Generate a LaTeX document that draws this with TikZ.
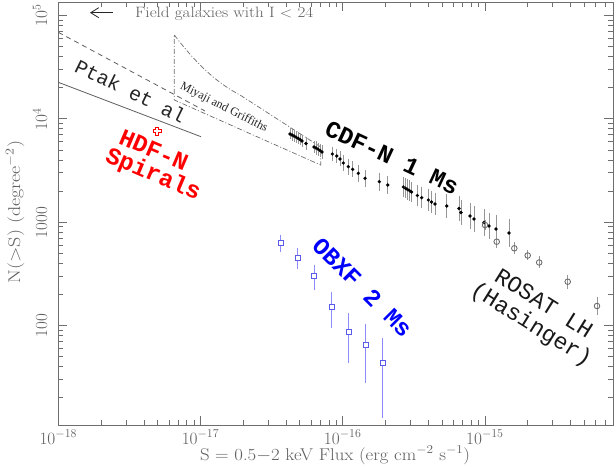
\documentclass[tikz,border=0pt]{standalone}
\usepackage{fontspec}
\usepackage{pdfrender}
\usetikzlibrary{arrows.meta}
\newfontfamily\cour{Liberation Mono}
\newfontfamily\tms{Liberation Serif}
\definecolor{axgray}{RGB}{110,110,110}
\definecolor{txtgray}{RGB}{95,95,95}
\definecolor{barg}{RGB}{150,150,150}
\definecolor{rosg}{RGB}{100,100,100}
\definecolor{obsq}{RGB}{90,90,235}
\definecolor{obbar}{RGB}{140,140,255}
\definecolor{obtxt}{RGB}{0,0,255}
\definecolor{hdfred}{RGB}{255,0,0}
\definecolor{linegray}{RGB}{95,95,95}
\newcommand{\heavy}[1]{\textpdfrender{TextRenderingMode=FillStroke,LineWidth=0.7pt,LineJoin=1}{#1}}
\def\cdfdata{290/134,292/135,294/136,296/137.2,298/138.3,300/139.5,302/141,306/143.5,314/147,316/148,318/149.2,320/150.5,322/152,332.3/154,336.7/156,340/159,343.3/163,348.3/166.7,352.7/169.3,358.3/173.3,365/178.3,379.3/181.7,387.7/185,403.3/187,405.5/188.3,407.5/189.5,409.5/190.7,411.5/192,417.3/195.5,421.7/197.7,428.3/200,431.5/202,435/204,446.7/206,459/208.5,461/212.5,470/216,474/219,484/222.5,489/226,496/229,509/233}
\def\rosdata{485/225/5,496.7/241.7/6,514.3/248.3/6,527.7/255.5/5,539.2/262.5/6,567.7/281.7/7,597/306/9}
\def\obxdata{280.7/242.7/235/252.3,297.7/257.7/248.3/269,314.3/276/265/290,331.7/306.7/291.7/328.3,348.7/331.7/313.3/363.3,365.7/345/324/383.3,382.7/362.7/338.3/418.3}
\begin{document}
\begin{tikzpicture}[x=1pt,y=-1pt,
  frame/.style={draw=axgray,line width=0.9pt},
  tick/.style={draw=axgray,line width=0.8pt},
  ticklab/.style={text=txtgray,inner sep=0pt,font={\fontsize{17}{20}\selectfont}},
  axlab/.style={text=txtgray,inner sep=0pt,font={\fontsize{17}{20}\selectfont}},
  cbar/.style={draw=barg,line width=0.9pt},
  cdot/.style={fill=black},
  rosbar/.style={draw=barg,line width=0.9pt},
  roscirc/.style={draw=rosg,line width=0.8pt},
  obbarst/.style={draw=obbar,line width=0.9pt},
  obsqst/.style={draw=obsq,line width=0.8pt},
  ptakline/.style={draw=linegray,line width=0.8pt},
  ptakdash/.style={draw=linegray,line width=0.8pt,dash pattern=on 5pt off 4pt},
  mgline/.style={draw=axgray,line width=0.7pt,dash pattern=on 5pt off 2pt on 1pt off 2pt},
  monolab/.style={inner sep=0pt,font={\cour\fontsize{#1}{#1}\selectfont}},
  boldlab/.style={inner sep=0pt,font={\cour\bfseries\fontsize{#1}{#1}\selectfont}}
]
\useasboundingbox (0,0) rectangle (616,470);
\fill[white] (0,0) rectangle (616,470);

% frame
\coordinate (fbl) at (58.3,425);
\coordinate (ftr) at (613,2.3);
\draw[frame] (fbl) rectangle (ftr);

% x ticks (bottom and top)
\foreach \d in {-18,-17,-16,-15} {
  \foreach \m in {1,...,9} {
    \pgfmathsetmacro\xx{58.3+142.2*(\d+18+log10(\m))}
    \pgfmathsetmacro\tl{ifthenelse(\m==1,9,5)}
    \ifdim\xx pt<612.5pt
      \draw[tick] (\xx,425) -- (\xx,{425-\tl});
      \draw[tick] (\xx,2.3) -- (\xx,{2.3+\tl});
    \fi
  }
}
% y ticks (left and right)
\foreach \k in {1,2,3,4,5} {
  \foreach \m in {1,...,9} {
    \pgfmathsetmacro\yy{325.3-103.2*(\k-2+log10(\m))}
    \pgfmathsetmacro\tl{ifthenelse(\m==1,9,5)}
    \ifdim\yy pt<424.5pt
    \ifdim\yy pt>2.8pt
      \draw[tick] (58.3,\yy) -- ({58.3+\tl},\yy);
      \draw[tick] (613,\yy) -- ({613-\tl},\yy);
    \fi\fi
  }
}

% tick labels
\node[ticklab,anchor=base] (xt18) at (58.3,444) {$10^{-18}$};
\node[ticklab,anchor=base] (xt17) at (200.5,444) {$10^{-17}$};
\node[ticklab,anchor=base] (xt16) at (342.7,444) {$10^{-16}$};
\node[ticklab,anchor=base] (xt15) at (484.9,444) {$10^{-15}$};
\node[ticklab,anchor=base,rotate=90] (yt5) at (47,15.7) {$10^{5}$};
\node[ticklab,anchor=base,rotate=90] (yt4) at (47,119.3) {$10^{4}$};
\node[ticklab,anchor=base,rotate=90] (yt3) at (47,222.7) {1000};
\node[ticklab,anchor=base,rotate=90] (yt2) at (47,325.3) {100};

% axis labels
\node[axlab,anchor=base] (xlab) at (335,460) {\resizebox{270pt}{\height}{S = 0.5$-$2 keV Flux (erg cm$^{-2}$ s$^{-1}$)}};
\node[axlab,anchor=base,rotate=90] (ylab) at (20,212) {\resizebox{143pt}{\height}{N($>$S) (degree$^{-2}$)}};

% field galaxies arrow
\coordinate (arrS) at (112.5,12.7);
\coordinate (arrE) at (90,12.7);
\draw[line width=0.8pt,black!85,-{Straight Barb[length=8pt,width=10pt]}] (arrS) -- (arrE);
\node[inner sep=0pt,anchor=base west,text=txtgray,font={\fontsize{15}{18}\selectfont}] (field) at (135,18) {\resizebox{178pt}{\height}{Field galaxies with I $<$ 24}};

% Ptak et al lines
\coordinate (pA) at (58.3,82.3);
\coordinate (pB) at (201,136.7);
\coordinate (pC) at (58.3,32.3);
\coordinate (pD) at (205,111);
\draw[ptakline] (pA) -- (pB);
\draw[ptakdash] (pC) -- (pD);

% Miyaji and Griffiths region
\coordinate (mA) at (174.3,35);
\coordinate (mB) at (240,95);
\coordinate (mC) at (320.7,147);
\coordinate (mD) at (320.7,165);
\coordinate (mE) at (174.3,100);
\draw[mgline] (mA) .. controls (195,62) and (215,82) .. (mB) -- (mC) -- (mD) -- (mE) -- cycle;

% CDF-N data
\foreach \x/\y in \cdfdata {
  \pgfmathsetmacro\e{5.5+(\x-290)*0.04}
  \draw[cbar] (\x,{\y-\e}) -- (\x,{\y+\e});
}
\foreach \x/\y in \cdfdata { \fill[cdot] (\x,\y) circle[radius=1.8pt]; }

% ROSAT data
\foreach \x/\y/\e in \rosdata {
  \draw[rosbar] (\x,{\y-\e}) -- (\x,{\y+\e});
  \draw[roscirc] (\x,\y) circle[radius=2.8pt];
}

% OBXF data
\foreach \x/\y/\t/\b in \obxdata {
  \draw[obbarst] (\x,\t) -- (\x,{\y-2.5});
  \draw[obbarst] (\x,{\y+2.5}) -- (\x,\b);
  \draw[obsqst] ({\x-2.5},{\y-2.5}) rectangle ({\x+2.5},{\y+2.5});
}

% HDF-N cross
\draw[hdfred,line width=0.8pt,shift={(157,131)}]
  (1.3,-4) -- (1.3,-1.3) -- (4,-1.3) -- (4,1.3) -- (1.3,1.3) -- (1.3,4) -- (-1.3,4) -- (-1.3,1.3) -- (-4,1.3) -- (-4,-1.3) -- (-1.3,-1.3) -- (-1.3,-4) -- cycle;

% labels
\node[monolab=20,text=black!85,rotate=-26] (ptak) at (130.5,91) {Ptak et al};
\node[inner sep=0pt,font={\tms\fontsize{12}{12}\selectfont},text=black!85,rotate=-27] (mg) at (224,107.5) {Miyaji and Griffiths};
\node[boldlab=24,text=black,rotate=-25] (cdfn) at (392,157.5) {\heavy{CDF-N 1 Ms}};
\node[boldlab=24,text=hdfred,rotate=-23] (hdf1) at (153.8,150) {\heavy{HDF-N}};
\node[boldlab=24,text=hdfred,rotate=-23] (hdf2) at (152.9,175) {\heavy{Spirals}};
\node[boldlab=24,text=obtxt,rotate=-45] (obxf) at (362.4,287.4) {\heavy{OBXF 2 Ms}};
\node[monolab=23,text=black!90,rotate=-32] (ros1) at (544,303) {ROSAT LH};
\node[monolab=23,text=black!90,rotate=-32] (ros2) at (531,325) {(Hasinger)};
\end{tikzpicture}
\end{document}
